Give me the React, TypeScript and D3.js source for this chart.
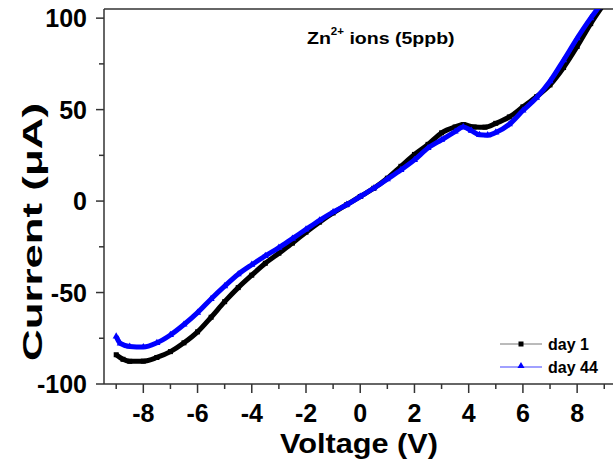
import React, { useRef, useEffect } from 'react'
import * as d3 from 'd3'

// day 1 sweep (V, uA)
const day1V = [-9, -8.75, -8.5, -8, -7.5, -7, -6.5, -6, -5.5, -5, -4.5, -4, -3.5, -3, -2.5, -2, -1.5, -1, -0.5, 0, 0.5, 1, 1.5, 2, 2.5, 3, 3.5, 3.8, 4.2, 4.6, 5, 5.5, 6, 6.5, 7, 7.5, 8, 8.5, 9]
const day1I = [-84, -86.5, -87.6, -87.5, -85.5, -82.3, -77.5, -71.5, -63.5, -55, -47.3, -40.5, -34, -28.5, -23, -17, -11.5, -6.5, -2, 2.5, 7, 12.5, 19, 25.5, 31, 37.3, 40.5, 41.8, 40.5, 40.4, 42.5, 46, 51.5, 57, 63.5, 73, 84.5, 97, 108]

// day 44 sweep
const day44V = [-9, -8.85, -8.5, -8, -7.5, -7, -6.5, -6, -5.5, -5, -4.5, -4, -3.5, -3, -2.5, -2, -1.5, -1, -0.5, 0, 0.5, 1, 1.5, 2, 2.5, 3, 3.5, 3.8, 4.1, 4.4, 4.7, 5, 5.5, 6, 6.5, 7, 7.5, 8, 8.5, 8.8]
const day44I = [-74, -77.8, -79.5, -79.8, -77.5, -73.2, -67.5, -61, -53.5, -46.5, -40, -34.8, -30, -25.5, -20.5, -15.5, -10.5, -6, -2, 2.5, 7, 12, 17, 22.5, 29, 33.5, 38, 40.5, 38.5, 36.2, 36, 37.5, 42, 49.5, 56.5, 65.5, 77, 89, 100, 106]

const xTicks = [-8, -6, -4, -2, 0, 2, 4, 6, 8]
const xMinor = [-9, -7, -5, -3, -1, 1, 3, 5, 7, 9]
const yTicks = [-100, -50, 0, 50, 100]
const yMinor = [-75, -25, 25, 75]

const FONT = '"Liberation Sans", Arial, sans-serif'

export default function App() {
  const svgRef = useRef<SVGSVGElement>(null)

  useEffect(() => {
    if (!svgRef.current) return
    const svg = d3.select(svgRef.current)
    svg.selectAll('*').remove()

    const W = 613
    const H = 465
    const left = 104
    const bottom = 384
    const top = 9
    const right = 617

    svg.attr('width', W).attr('height', H)
    svg.append('rect').attr('width', W).attr('height', H).attr('fill', '#fff')

    const x = d3.scaleLinear().domain([-9.45, 9.47]).range([left, right])
    const y = d3.scaleLinear().domain([-100, 105]).range([bottom, top])

    svg.append('defs').append('clipPath').attr('id', 'plot')
      .append('rect').attr('x', left).attr('y', top).attr('width', right - left).attr('height', bottom - top)

    const axisColor = '#333'

    // frame
    svg.append('line').attr('x1', left).attr('x2', W).attr('y1', top).attr('y2', top)
      .attr('stroke', axisColor).attr('stroke-width', 1.5)
    svg.append('line').attr('x1', left).attr('x2', W).attr('y1', bottom).attr('y2', bottom)
      .attr('stroke', axisColor).attr('stroke-width', 1.5)
    svg.append('line').attr('x1', left).attr('x2', left).attr('y1', top).attr('y2', bottom)
      .attr('stroke', axisColor).attr('stroke-width', 1.5)

    // x ticks
    svg.selectAll('line.xt').data(xTicks).join('line').attr('class', 'xt')
      .attr('x1', (d) => x(d)).attr('x2', (d) => x(d)).attr('y1', bottom).attr('y2', bottom + 9)
      .attr('stroke', axisColor).attr('stroke-width', 1.5)
    svg.selectAll('line.xm').data(xMinor).join('line').attr('class', 'xm')
      .attr('x1', (d) => x(d)).attr('x2', (d) => x(d)).attr('y1', bottom).attr('y2', bottom + 5)
      .attr('stroke', axisColor).attr('stroke-width', 1.5)
    svg.selectAll('text.xl').data(xTicks).join('text').attr('class', 'xl')
      .attr('x', (d) => x(d)).attr('y', 422).attr('text-anchor', 'middle')
      .attr('font-family', FONT).attr('font-weight', 'bold').attr('font-size', 25)
      .text((d) => String(d))

    // y ticks
    svg.selectAll('line.yt').data(yTicks).join('line').attr('class', 'yt')
      .attr('x1', left - 8).attr('x2', left).attr('y1', (d) => y(d)).attr('y2', (d) => y(d))
      .attr('stroke', axisColor).attr('stroke-width', 1.5)
    svg.selectAll('line.ym').data(yMinor).join('line').attr('class', 'ym')
      .attr('x1', left - 5).attr('x2', left).attr('y1', (d) => y(d)).attr('y2', (d) => y(d))
      .attr('stroke', axisColor).attr('stroke-width', 1.5)
    svg.selectAll('text.yl').data(yTicks).join('text').attr('class', 'yl')
      .attr('x', 87).attr('y', (d) => y(d) + 9).attr('text-anchor', 'end')
      .attr('font-family', FONT).attr('font-weight', 'bold').attr('font-size', 25)
      .text((d) => String(d))

    // axis titles
    svg.append('text').attr('x', 359).attr('y', 453).attr('text-anchor', 'middle')
      .attr('font-family', FONT).attr('font-weight', 'bold').attr('font-size', 28)
      .attr('textLength', 158).attr('lengthAdjust', 'spacingAndGlyphs')
      .text('Voltage (V)')
    svg.append('text').attr('transform', 'translate(42,232) rotate(-90)').attr('text-anchor', 'middle')
      .attr('font-family', FONT).attr('font-weight', 'bold').attr('font-size', 28)
      .attr('textLength', 258).attr('lengthAdjust', 'spacingAndGlyphs')
      .text('Current (μA)')

    // title (slightly stretched horizontally like the original)
    const t = svg.append('text').attr('transform', 'translate(307,44) scale(1.15,1)')
      .attr('font-family', FONT).attr('font-weight', 'bold').attr('font-size', 17)
    t.append('tspan').text('Zn')
    t.append('tspan').attr('font-size', 10).attr('dy', -9).text('2+')
    t.append('tspan').attr('dy', 9).text(' ions (5ppb)')

    // curves
    const plot = svg.append('g').attr('clip-path', 'url(#plot)')
    const line = d3.line<[number, number]>()
      .x((d) => x(d[0])).y((d) => y(d[1])).curve(d3.curveMonotoneX)

    const d1 = day1V.map((v, i) => [v, day1I[i]] as [number, number])
    const d44 = day44V.map((v, i) => [v, day44I[i]] as [number, number])

    plot.append('path').attr('d', line(d1)).attr('fill', 'none')
      .attr('stroke', '#000').attr('stroke-width', 5)
    plot.selectAll('rect.m1').data(d1).join('rect').attr('class', 'm1')
      .attr('x', (d) => x(d[0]) - 2.5).attr('y', (d) => y(d[1]) - 2.5)
      .attr('width', 5).attr('height', 5).attr('fill', '#000')

    const tri = d3.symbol().type(d3.symbolTriangle).size(22)
    plot.append('path').attr('d', line(d44)).attr('fill', 'none')
      .attr('stroke', '#0000ff').attr('stroke-width', 5)
    plot.selectAll('path.m44').data(d44).join('path').attr('class', 'm44')
      .attr('transform', (d) => `translate(${x(d[0])},${y(d[1])})`)
      .attr('d', tri()).attr('fill', '#0000ff')

    // legend
    const lg = svg.append('g')
    lg.append('line').attr('x1', 500).attr('x2', 542).attr('y1', 344).attr('y2', 344)
      .attr('stroke', '#777').attr('stroke-width', 1)
    lg.append('rect').attr('x', 518.5).attr('y', 341.5).attr('width', 5).attr('height', 5).attr('fill', '#000')
    lg.append('text').attr('x', 548).attr('y', 350)
      .attr('font-family', FONT).attr('font-weight', 'bold').attr('font-size', 16).text('day 1')
    lg.append('line').attr('x1', 500).attr('x2', 542).attr('y1', 367).attr('y2', 367)
      .attr('stroke', '#8080ff').attr('stroke-width', 1.5)
    lg.append('path').attr('transform', 'translate(521,366)').attr('d', tri()).attr('fill', '#0000ff')
    lg.append('text').attr('x', 548).attr('y', 373)
      .attr('font-family', FONT).attr('font-weight', 'bold').attr('font-size', 16).text('day 44')
  }, [])

  return (
    <svg ref={svgRef} style={{ position: 'absolute', left: 0, top: 0, display: 'block' }} />
  )
}
